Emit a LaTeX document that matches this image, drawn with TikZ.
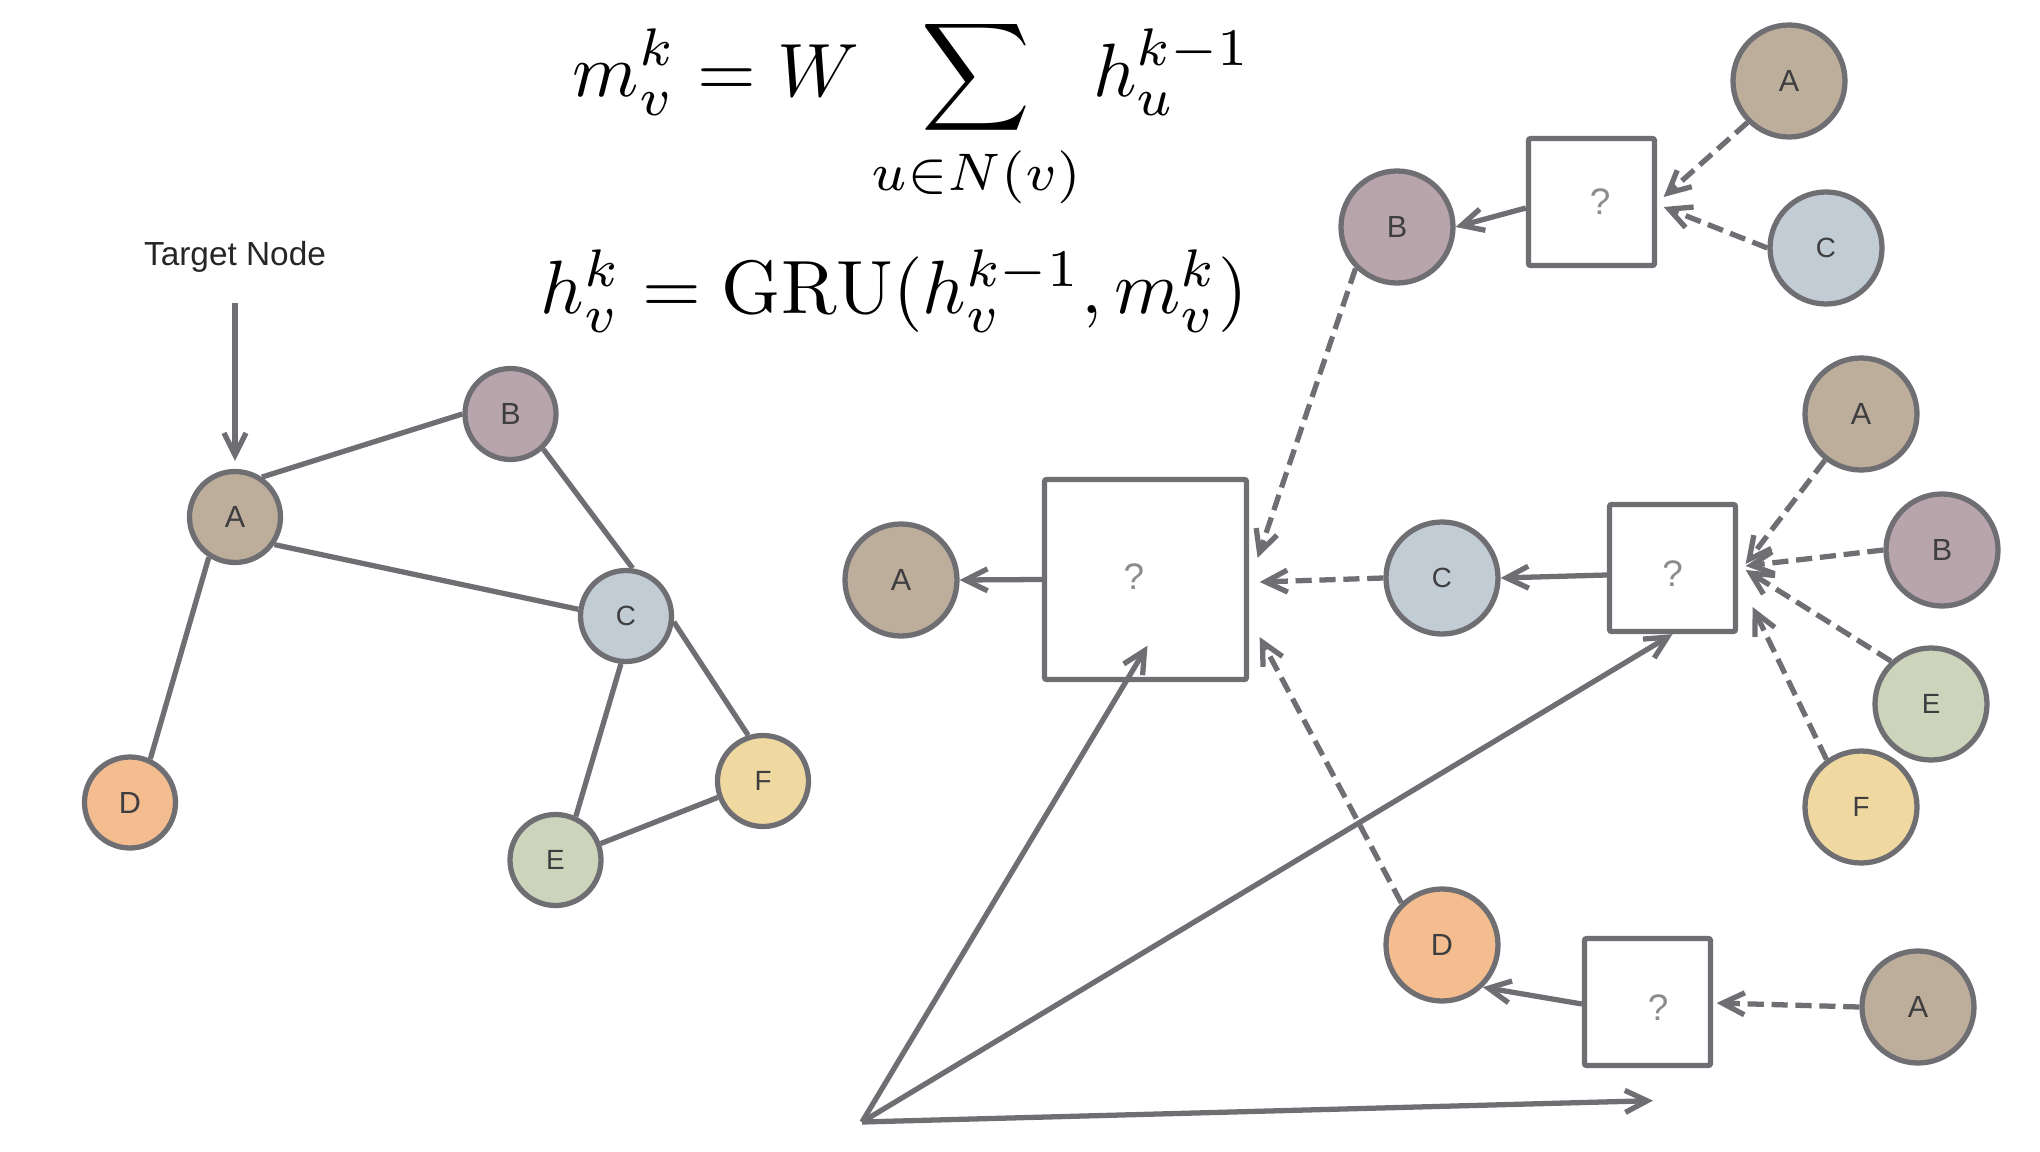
\documentclass[tikz,border=0pt]{standalone}
\usepackage{amsmath}
\usepackage{fontspec}
\newfontfamily\lblfont{Liberation Sans}
\usepackage{tikz}
\usetikzlibrary{arrows.meta}

\definecolor{linegray}{HTML}{6F6E73}
\definecolor{lbltext}{HTML}{3E3E40}
\definecolor{qgray}{HTML}{8C8C8E}
\definecolor{fillA}{HTML}{BDAE9B}
\definecolor{fillB}{HTML}{B8A5AB}
\definecolor{fillC}{HTML}{C1CCD5}
\definecolor{fillD}{HTML}{F4BD90}
\definecolor{fillE}{HTML}{CCD4BB}
\definecolor{fillF}{HTML}{EFD9A0}

\begin{document}
\begin{tikzpicture}[
  vtx/.style={circle, draw=linegray, line width=1.5pt, inner sep=0pt, text=lbltext, font={\lblfont\fontsize{8.7}{10}\selectfont}},
  small vtx/.style={vtx, minimum size=9.1mm},
  big vtx/.style={vtx, minimum size=11.2mm},
  smallfont/.style={font={\lblfont\fontsize{7.9}{9}\selectfont}},
  aggbox/.style={draw=linegray, fill=white, line width=1.5pt, rounded corners=0.6pt, minimum width=12.6mm, minimum height=12.7mm, inner sep=0pt},
  qmark/.style={text=qgray, font={\lblfont\fontsize{10.5}{12}\selectfont}},
  edge/.style={draw=linegray, line width=1.5pt},
  upd/.style={edge, -{Straight Barb[length=2.2mm, width=2.2mm]}},
  msg/.style={upd, dash pattern=on 4.6pt off 2.2pt},
  eqn/.style={anchor=base east, inner sep=0pt, scale=2.15}
]
\useasboundingbox (0,0) rectangle (20.4,-11.52);

% the two update rules
\node [eqn] (msgeq) at (12.53,-0.967) {$\displaystyle m_v^k = W \sum_{u\in N(v)} h_u^{k-1}$};
\node [eqn] (updeq) at (12.49,-3.137) {$h_v^k = \mathrm{GRU}(h_v^{k-1}, m_v^k)$};

% input graph
\node [text=black!85, font={\lblfont\fontsize{9.5}{11}\selectfont}] (tgt) at (2.35,-2.57) {Target Node};

\node [small vtx, fill=fillA] (lA) at (2.35,-5.17) {A};
\node [small vtx, fill=fillB] (lB) at (5.105,-4.14) {B};
\node [small vtx, fill=fillC, smallfont] (lC) at (6.26,-6.16) {C};
\node [small vtx, fill=fillD] (lD) at (1.30,-8.025) {D};
\node [small vtx, fill=fillE, smallfont] (lE) at (5.555,-8.60) {E};
\node [small vtx, fill=fillF, smallfont] (lF) at (7.63,-7.81) {F};

\draw [upd, shorten <=1.8mm, shorten >=0.8mm] (tgt) -- (lA);

\draw [edge] (lA.56) -- (lB.180);
\draw [edge] (lA.-35) -- (lC.172);
\draw [edge] (lA.237) -- (lD.65);
\draw [edge] (lB.-47) -- (lC.82);
\draw [edge] (lC.264) -- (lE.65);
\draw [edge] (lC.-7) -- (lF.108);
\draw [edge] (lE.20) -- (lF.200);

% % % % % % % % % % % % % % % % % % % % % % % % % %

% unrolled computation for A
\node [big vtx, fill=fillA] (mA) at (9.01,-5.80) {A};
\node [aggbox, minimum width=20.2mm, minimum height=20.0mm, label={[qmark, xshift=-1.15mm, yshift=0.25mm]center:?}] (mbox) at (11.455,-5.795) {};

\node [big vtx, fill=fillB] (tB) at (13.97,-2.27) {B};
\node [aggbox, label={[qmark, xshift=0.85mm]center:?}] (tbox) at (15.915,-2.02) {};
\node [big vtx, fill=fillA] (tA) at (17.89,-0.81) {A};
\node [big vtx, fill=fillC, smallfont] (tC) at (18.26,-2.48) {C};

\node [big vtx, fill=fillC, smallfont] (mC) at (14.42,-5.78) {C};
\node [aggbox, label={[qmark, yshift=-0.6mm]center:?}] (rbox) at (16.725,-5.68) {};
\node [big vtx, fill=fillA] (rA) at (18.61,-4.14) {A};
\node [big vtx, fill=fillB] (rB) at (19.42,-5.50) {B};
\node [big vtx, fill=fillE, smallfont] (rE) at (19.31,-7.04) {E};
\node [big vtx, fill=fillF, smallfont] (rF) at (18.61,-8.07) {F};

\node [big vtx, fill=fillD] (bD) at (14.42,-9.45) {D};
\node [aggbox, label={[qmark, xshift=1.05mm, yshift=-0.6mm]center:?}] (bbox) at (16.475,-10.02) {};
\node [big vtx, fill=fillA] (bA) at (19.18,-10.07) {A};

\coordinate (src) at (8.62,-11.22);

\draw [upd] (mbox.west) -- (mA.east);
\draw [upd] ([yshift=-0.6mm]tbox.west) -- (tB.east);
\draw [upd] ([yshift=-0.7mm]rbox.west) -- (mC.east);
\draw [upd] ([yshift=-0.2mm]bbox.west) -- (bD.-46);

\draw [msg] (tB.225) -- ([xshift=0.85mm,yshift=2.15mm]mbox.east);
\draw [msg] (mC.west) -- ([xshift=1.05mm,yshift=-0.25mm]mbox.east);
\draw [msg] (bD.134) -- ([xshift=1.05mm,yshift=-5.75mm]mbox.east);

\draw [msg] (tA.225) -- ([xshift=0.65mm,yshift=0.5mm]tbox.east);
\draw [msg] (tC.west) -- ([xshift=0.65mm,yshift=-0.5mm]tbox.east);

\draw [msg] (rA.232) -- ([xshift=0.75mm,yshift=0.4mm]rbox.east);
\draw [msg] (rB.west) -- ([xshift=0.75mm,yshift=0.2mm]rbox.east);
\draw [msg] (rE.133) -- ([xshift=0.75mm,yshift=-0.2mm]rbox.east);
\draw [msg] (rF.126) -- ([xshift=1.45mm,yshift=-3.9mm]rbox.east);

\draw [msg] (bA.west) -- ([xshift=0.35mm,yshift=-0.1mm]bbox.east);

\draw [upd] (src) -- ([xshift=0.2mm,yshift=3.65mm]mbox.south);
\draw [upd] (src) -- (rbox.south);
\draw [upd] (src) -- ([xshift=0.55mm,yshift=-3.25mm]bbox.south);
\end{tikzpicture}
\end{document}
